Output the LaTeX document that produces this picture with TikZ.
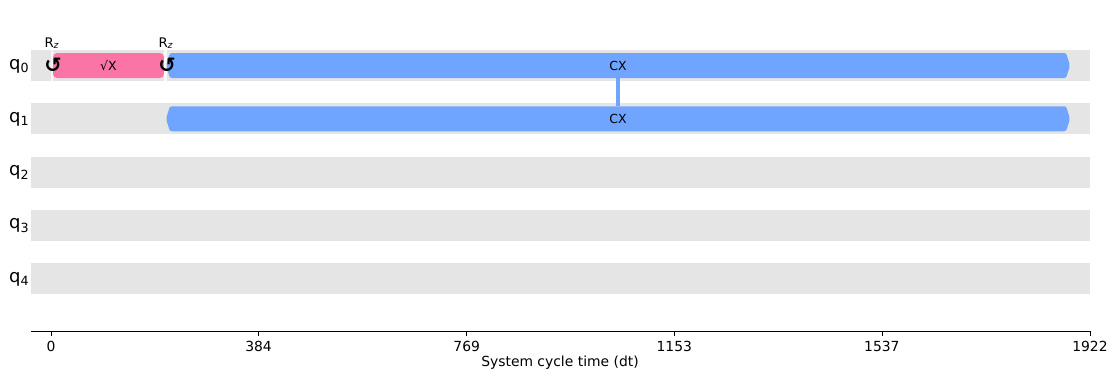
\documentclass[tikz,border=0pt]{standalone}
\usepackage{fontspec}
\setmainfont{DejaVu Sans}
\usetikzlibrary{positioning,shapes.symbols}

\definecolor{lanegray}{HTML}{E5E5E5}
\definecolor{sxpink}{HTML}{FA74A6}
\definecolor{cxblue}{HTML}{6FA4FF}

\tikzset{
  lane/.style={fill=lanegray},
  qlabel/.style={anchor=east, inner sep=1pt, font=\fontsize{13}{15}\selectfont},
  gatename/.style={font=\fontsize{9}{11}\selectfont},
  sxgate/.style={gatename, fill=sxpink, rounded corners=3pt, minimum width=79.9pt, minimum height=18pt, inner sep=0pt},
  cxgate/.style={gatename, signal, signal to=west and east, signal pointer angle=145, fill=cxblue, rounded corners=1.5pt, minimum width=650.9pt, minimum height=18pt, inner sep=0pt},
  fchange/.style={font=\fontsize{15}{17}\selectfont\bfseries},
  fname/.style={font=\fontsize{9.5}{11}\selectfont, inner sep=0pt},
  ticklabel/.style={font=\fontsize{10}{12}\selectfont},
}

\begin{document}
\begin{tikzpicture}[x=0.72pt, y=-0.72pt]
  \useasboundingbox (0,0) rectangle (1120,384);

  % qubit lanes
  \foreach \i in {0,...,4} {
    \fill[lane] (31,{50+53.25*\i}) rectangle ++(1059,31);
    \node[qlabel] (q\i) at (31,{66+53.25*\i}) {q\textsubscript{\i}};
  }

  % frame change gaps
  \fill[white, opacity=.7] (50.5,50) rectangle (53,81);
  \fill[white, opacity=.8] (163.5,50) rectangle (166.5,81);

  % gates
  \node[sxgate] (sx) at (108.5,65.5) {√X};
  \node[cxgate] (cx0) at (618,65.5) {CX};
  \node[cxgate] (cx1) at (618,118.75) {CX};
  \draw[cxblue, line width=2.2pt] (cx0.south) -- (cx1.north);

  % Rz frame changes
  \node[fchange] (rz0) at (53,65) {↺};
  \node[fname] (rz0name) at (52,43) {R\textsubscript{\textit{z}}};
  \node[fchange] (rz1) at (167,65) {↺};
  \node[fname] (rz1name) at (166,43) {R\textsubscript{\textit{z}}};

  % time axis
  \draw[line width=0.6pt] (31,331) -- (1090,331);
  \foreach \v in {0,384,769,1153,1537,1922} {
    \draw[line width=0.5pt] ({51+\v*0.54058},331) -- ++(0,5)
      node[ticklabel, below=0pt] {\v};
  }
  \node[ticklabel] (xlabel) at (560,363) {System cycle time (dt)};
\end{tikzpicture}
\end{document}
